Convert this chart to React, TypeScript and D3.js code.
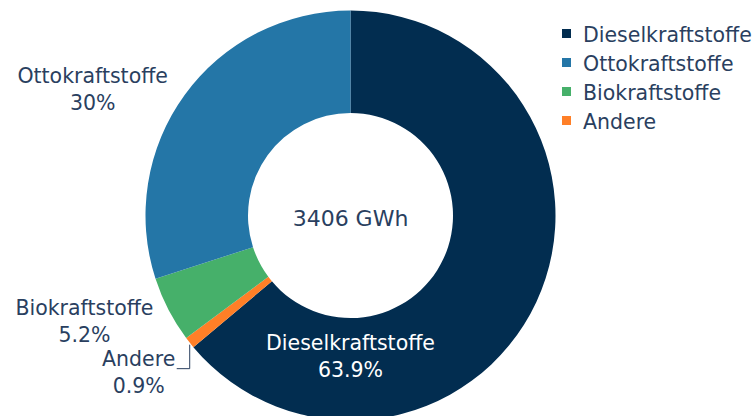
import * as d3 from 'd3';
import { useEffect, useRef } from 'react';

// Kraftstoffverbrauch, Anteile in %
const categories = ['Dieselkraftstoffe', 'Ottokraftstoffe', 'Biokraftstoffe', 'Andere'];
const shares = [63.9, 30, 5.2, 0.9];
const shareLabels = ['63.9%', '30%', '5.2%', '0.9%'];
const colors = ['#022d50', '#2476a7', '#46b06a', '#ff7f27'];
// order of the slices, clockwise from the top
const sliceOrder = [0, 3, 2, 1];
const totalLabel = '3406 GWh';

const W = 754;
const H = 416;
const textColor = '#2a3f5f';
const font = '"DejaVu Sans", Verdana, sans-serif';

export default function App() {
    const ref = useRef<SVGSVGElement>(null);

    useEffect(() => {
        if (!ref.current) return;
        const svg = d3.select(ref.current);
        svg.selectAll('*').remove();

        const cx = 350.5;
        const cy = 215.5;
        const outerR = 205;
        const innerR = 102.5;

        const rows = sliceOrder.map(i => ({ i, v: shares[i] }));
        const pie = d3.pie<{ i: number; v: number }>().sort(null).value(d => d.v);
        const arcs = pie(rows);
        const arc = d3.arc<d3.PieArcDatum<{ i: number; v: number }>>()
            .innerRadius(innerR)
            .outerRadius(outerR);

        const g = svg.append('g').attr('transform', `translate(${cx},${cy})`);

        g.selectAll('path')
            .data(arcs).enter()
            .append('path')
            .attr('d', arc)
            .attr('fill', d => colors[d.data.i])
            .attr('stroke', 'none');

        // center total
        g.append('text')
            .attr('x', 0).attr('y', 10.5)
            .attr('text-anchor', 'middle')
            .attr('font-family', font)
            .attr('font-size', 22)
            .attr('fill', textColor)
            .text(totalLabel);

        const edge = (a: number, r: number) => [Math.sin(a) * r, -Math.cos(a) * r];

        // label placement: inside for big slice, outside for the rest
        const placements: Record<number, { inside: boolean; dx: number; dy: number }> = {
            0: { inside: true, dx: 0, dy: 0 },
            1: { inside: false, dx: -92, dy: -7 },
            2: { inside: false, dx: -84, dy: 10 },
            3: { inside: false, dx: -51, dy: 28 },
        };

        arcs.forEach(d => {
            const i = d.data.i;
            const p = placements[i];
            const mid = (d.startAngle + d.endAngle) / 2;
            let x: number, y: number;
            if (p.inside) {
                // below the hole, between inner and outer radius
                x = 0;
                y = (innerR + outerR) / 2 - 14;
            } else {
                const [ex, ey] = edge(mid, outerR);
                x = ex + p.dx;
                y = ey + p.dy;
            }
            const t = g.append('text')
                .attr('text-anchor', 'middle')
                .attr('font-family', font)
                .attr('font-size', 20.5)
                .attr('fill', p.inside ? '#ffffff' : textColor);
            t.append('tspan').attr('x', x).attr('y', y - 5).text(categories[i]);
            t.append('tspan').attr('x', x).attr('y', y + 22).text(shareLabels[i]);

            if (i === 3) {
                const [ex, ey] = edge(mid, outerR);
                const path = d3.path();
                path.moveTo(ex, ey + 2);
                path.lineTo(ex, ey + 26);
                path.lineTo(ex - 13, ey + 26);
                g.append('path')
                    .attr('d', path.toString())
                    .attr('fill', 'none')
                    .attr('stroke', textColor)
                    .attr('stroke-width', 1);
            }
        });

        // legend
        const legend = svg.append('g').attr('transform', 'translate(562,0)');
        const item = legend.selectAll('g')
            .data(categories).enter()
            .append('g')
            .attr('transform', (_, k) => `translate(0,${42 + k * 29})`);
        item.append('rect')
            .attr('x', 0).attr('y', -13)
            .attr('width', 9).attr('height', 9)
            .attr('fill', (_, k) => colors[k]);
        item.append('text')
            .attr('x', 21).attr('y', 0)
            .attr('font-family', font)
            .attr('font-size', 20.5)
            .attr('fill', textColor)
            .text(d => d);
    }, []);

    return (
        <div style={{ position: 'absolute', left: 0, top: 0, width: W, height: H, background: '#fff' }}>
            <svg ref={ref} width={W} height={H} style={{ display: 'block' }} />
        </div>
    );
}
